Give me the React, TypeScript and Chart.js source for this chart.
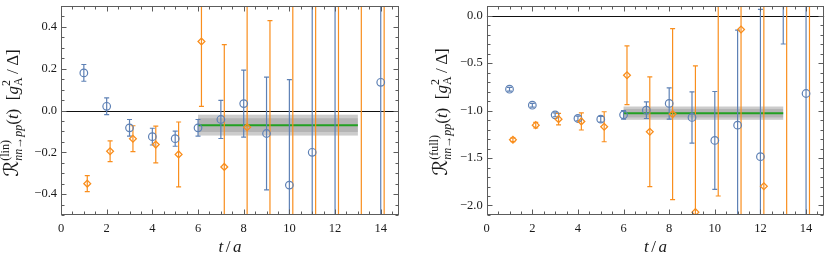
import React, { useEffect, useRef } from 'react';
import { Chart, registerables } from 'chart.js';

Chart.register(...registerables);

// ---------- data ----------
const tBlue = [1, 2, 3, 4, 5, 6, 7, 8, 9, 10, 11, 12, 13, 14];
const tOrange = [1.15, 2.15, 3.15, 4.15, 5.15, 6.15, 7.15, 8.15, 9.15, 10.15, 11.15, 12.15, 13.15, 14.15];

// left panel: R^(lin)
const linBlue = [0.18, 0.02, -0.083, -0.125, -0.135, -0.083, -0.043, 0.033, -0.11, -0.357, -0.2, 0.7, null, 0.135];
const linBlueErr = [0.04, 0.04, 0.04, 0.04, 0.036, 0.04, 0.091, 0.16, 0.27, 0.505, 1.2, 1.5, null, 1.4];
const linOrange = [-0.35, -0.195, -0.135, -0.163, -0.21, 0.33, -0.27, -0.08, -0.6, -0.8, 0.9, -1.0, 1.2, -1.5];
const linOrangeErr = [0.038, 0.05, 0.062, 0.088, 0.155, 0.31, 0.585, 0.9, 1.03, 1.5, 2.0, 2.5, 3.0, 3.5];

// right panel: R^(full)
const fullBlue = [-0.776, -0.944, -1.046, -1.084, -1.091, -1.046, -0.997, -0.926, -1.073, -1.315, -1.154, -1.486, 0.4, -0.821];
const fullBlueErr = [0.02, 0.02, 0.02, 0.025, 0.03, 0.045, 0.087, 0.165, 0.27, 0.515, 1.0, 1.55, 0.7, 1.6];
const fullOrange = [-1.308, -1.154, -1.091, -1.115, -1.171, -0.629, -1.224, -1.038, -2.07, 0.5, -0.147, -1.797, 0.6, 0.5];
const fullOrangeErr = [0.02, 0.03, 0.06, 0.09, 0.158, 0.31, 0.577, 0.9, 1.54, 2.4, 2.3, 1.95, 2.9, 2.8];

// fits: [value, outer error, inner error]
const fitRange = [6, 13];
const linFit = [-0.07, 0.05, 0.033];
const fullFit = [-1.028, 0.07, 0.045];

// axes
const xRange = [0, 14.8];
const xTicks = [0, 2, 4, 6, 8, 10, 12, 14];
const xMinorStep = 0.5;
const linYRange = [-0.5, 0.5];
const linYTicks = [-0.4, -0.2, 0, 0.2, 0.4];
const linYMinorStep = 0.05;
const fullYRange = [-2.1, 0.1];
const fullYTicks = [-2, -1.5, -1, -0.5, 0];
const fullYMinorStep = 0.1;

// ---------- style ----------
const BLUE = '#5E81B5';
const ORANGE = '#F98E1D';
const GREEN = '#22A022';
const FRAME = '#5c5c5c';
const TEXT = '#1a1a1a';
const SERIF = '"Liberation Serif", "Times New Roman", serif';

const fmtY = (v: number) => (v < -1e-9 ? '\u2212' : '') + Math.abs(v).toFixed(1);

function minorValues(range: number[], step: number, majors: number[]) {
  const out: number[] = [];
  const k0 = Math.ceil(range[0] / step - 1e-9);
  const k1 = Math.floor(range[1] / step + 1e-9);
  for (let k = k0; k <= k1; k++) {
    const v = k * step;
    if (!majors.some((m) => Math.abs(m - v) < 1e-6)) out.push(v);
  }
  return out;
}

function drawYLabel(ctx: CanvasRenderingContext2D, sup: string, bx: number, cy: number) {
  const big = `17px ${SERIF}`;
  const bigI = `italic 17px ${SERIF}`;
  const sm = `12px ${SERIF}`;
  const smI = `italic 12px ${SERIF}`;
  const scriptR = `20px "DejaVu Serif", "DejaVu Sans", ${SERIF}`;
  const groups: Array<Array<[string, string, number]>> = [
    [['\u211B', scriptR, 0]],
    [['nn\u2192pp', smI, 4], [`(${sup})`, sm, -9]],
    [['(', big, 0]],
    [['t', bigI, 0]],
    [[')', big, 0]],
    [['\u2002', big, 0]],
    [['[', big, 0]],
    [['g', bigI, 0]],
    [['A', sm, 4], ['2', sm, -8]],
    [['\u2009/\u2009', big, 0]],
    [['\u0394', big, 0]],
    [[']', big, 0]],
  ];
  ctx.save();
  const widths = groups.map((g) =>
    Math.max(
      ...g.map(([t, f]) => {
        ctx.font = f;
        return ctx.measureText(t).width;
      })
    )
  );
  const total = widths.reduce((a, b) => a + b, 0);
  ctx.translate(bx, cy);
  ctx.rotate(-Math.PI / 2);
  ctx.fillStyle = TEXT;
  ctx.textAlign = 'left';
  ctx.textBaseline = 'alphabetic';
  let x = -total / 2;
  groups.forEach((g, i) => {
    g.forEach(([t, f, dy]) => {
      ctx.font = f;
      ctx.fillText(t, x, dy);
    });
    x += widths[i];
  });
  ctx.restore();
}

function drawXLabel(ctx: CanvasRenderingContext2D, cx: number, by: number) {
  const parts: Array<[string, string]> = [
    ['t', `italic 17px ${SERIF}`],
    ['/', `17px ${SERIF}`],
    ['a', `italic 17px ${SERIF}`],
  ];
  const gap = 2.5;
  ctx.save();
  const ws = parts.map(([t, f]) => {
    ctx.font = f;
    return ctx.measureText(t).width;
  });
  const total = ws.reduce((a, b) => a + b, 0) + gap * (parts.length - 1);
  let x = cx - total / 2;
  ctx.fillStyle = TEXT;
  ctx.textAlign = 'left';
  ctx.textBaseline = 'alphabetic';
  parts.forEach(([t, f], i) => {
    ctx.font = f;
    ctx.fillText(t, x, by);
    x += ws[i] + gap;
  });
  ctx.restore();
}

const panelPlugin = {
  id: 'panel',
  beforeDatasetsDraw(chart: any, _args: any, o: any) {
    const { ctx, chartArea: a } = chart;
    const xs = chart.scales.x;
    const ys = chart.scales.y;
    ctx.save();
    ctx.beginPath();
    ctx.rect(a.left, a.top, a.right - a.left, a.bottom - a.top);
    ctx.clip();
    const fx0 = xs.getPixelForValue(o.fitRange[0]);
    const fx1 = xs.getPixelForValue(o.fitRange[1]);
    const band = (err: number, color: string) => {
      const y1 = ys.getPixelForValue(o.fit[0] + err);
      const y2 = ys.getPixelForValue(o.fit[0] - err);
      ctx.fillStyle = color;
      ctx.fillRect(fx0, y1, fx1 - fx0, y2 - y1);
    };
    band(o.fit[1], 'rgba(0,0,0,0.2)');
    band(o.fit[2], 'rgba(0,0,0,0.12)');
    // zero line
    const y0 = Math.round(ys.getPixelForValue(0)) + 0.5;
    ctx.strokeStyle = '#111';
    ctx.lineWidth = 1;
    ctx.beginPath();
    ctx.moveTo(a.left, y0);
    ctx.lineTo(a.right, y0);
    ctx.stroke();
    // fit line
    const yf = ys.getPixelForValue(o.fit[0]);
    ctx.strokeStyle = GREEN;
    ctx.lineWidth = 2;
    ctx.beginPath();
    ctx.moveTo(fx0, yf);
    ctx.lineTo(fx1, yf);
    ctx.stroke();
    // error bars
    for (const s of o.series) {
      ctx.strokeStyle = s.color;
      ctx.lineWidth = 1.2;
      s.t.forEach((t: number, i: number) => {
        const v = s.v[i];
        const e = s.e[i];
        if (v == null || e == null) return;
        const px = xs.getPixelForValue(t);
        const pTop = ys.getPixelForValue(v + e);
        const pBot = ys.getPixelForValue(v - e);
        ctx.beginPath();
        ctx.moveTo(px, pTop);
        ctx.lineTo(px, pBot);
        ctx.moveTo(px - 2.5, pTop);
        ctx.lineTo(px + 2.5, pTop);
        ctx.moveTo(px - 2.5, pBot);
        ctx.lineTo(px + 2.5, pBot);
        ctx.stroke();
      });
    }
    ctx.restore();
  },
  afterDraw(chart: any, _args: any, o: any) {
    const { ctx, chartArea: a } = chart;
    const xs = chart.scales.x;
    const ys = chart.scales.y;
    const l = Math.round(a.left) + 0.5;
    const r = Math.round(a.right) - 0.5;
    const t = Math.round(a.top) + 0.5;
    const b = Math.round(a.bottom) - 0.5;
    ctx.save();
    ctx.strokeStyle = FRAME;
    ctx.lineWidth = 1;
    ctx.strokeRect(l, t, r - l, b - t);
    ctx.beginPath();
    const xMaj = o.xTicks as number[];
    const xMin = minorValues(o.xRange, o.xMinorStep, xMaj);
    const tickX = (v: number, len: number) => {
      const p = Math.round(xs.getPixelForValue(v)) + 0.5;
      ctx.moveTo(p, b);
      ctx.lineTo(p, b - len);
      ctx.moveTo(p, t);
      ctx.lineTo(p, t + len);
    };
    xMaj.forEach((v) => tickX(v, 5));
    xMin.forEach((v) => tickX(v, 3));
    const yMaj = o.yTicks as number[];
    const yMin = minorValues(o.yRange, o.yMinorStep, yMaj);
    const tickY = (v: number, len: number) => {
      const p = Math.round(ys.getPixelForValue(v)) + 0.5;
      ctx.moveTo(l, p);
      ctx.lineTo(l + len, p);
      ctx.moveTo(r, p);
      ctx.lineTo(r - len, p);
    };
    yMaj.forEach((v) => tickY(v, 5));
    yMin.forEach((v) => tickY(v, 3));
    ctx.stroke();
    ctx.restore();
    drawXLabel(ctx, (a.left + a.right) / 2, 252);
    drawYLabel(ctx, o.sup, o.labelX, o.labelY);
  },
};

type PanelProps = {
  left: number;
  width: number;
  axisWidth: number;
  padRight: number;
  yRange: number[];
  yTicks: number[];
  yMinorStep: number;
  blue: (number | null)[];
  blueErr: (number | null)[];
  orange: (number | null)[];
  orangeErr: (number | null)[];
  fit: number[];
  sup: string;
  labelX: number;
  labelY: number;
};

function toPoints(ts: number[], vs: (number | null)[]) {
  return ts
    .map((t, i) => ({ x: t, y: vs[i] }))
    .filter((p) => p.y != null) as { x: number; y: number }[];
}

function Panel(p: PanelProps) {
  const ref = useRef<HTMLCanvasElement>(null);
  useEffect(() => {
    const chart = new Chart(ref.current as HTMLCanvasElement, {
      type: 'scatter',
      data: {
        datasets: [
          {
            data: toPoints(tOrange, p.orange),
            pointStyle: 'rectRot',
            pointRadius: 3.4,
            borderColor: ORANGE,
            backgroundColor: 'rgba(0,0,0,0)',
            borderWidth: 1.3,
          },
          {
            data: toPoints(tBlue, p.blue),
            pointStyle: 'circle',
            pointRadius: 3.8,
            borderColor: BLUE,
            backgroundColor: 'rgba(0,0,0,0)',
            borderWidth: 1.2,
          },
        ],
      },
      options: {
        animation: false,
        responsive: false,
        devicePixelRatio: 1,
        events: [],
        layout: { padding: { left: 0, right: p.padRight, top: 6, bottom: 0 } },
        plugins: {
          legend: { display: false },
          tooltip: { enabled: false },
          panel: {
            fitRange,
            fit: p.fit,
            xTicks,
            xRange,
            xMinorStep,
            yTicks: p.yTicks,
            yRange: p.yRange,
            yMinorStep: p.yMinorStep,
            sup: p.sup,
            labelX: p.labelX,
            labelY: p.labelY,
            series: [
              { t: tBlue, v: p.blue, e: p.blueErr, color: BLUE },
              { t: tOrange, v: p.orange, e: p.orangeErr, color: ORANGE },
            ],
          },
        } as any,
        scales: {
          x: {
            type: 'linear',
            min: xRange[0],
            max: xRange[1],
            grid: { display: false, drawTicks: false },
            border: { display: false },
            afterBuildTicks: (s: any) => {
              s.ticks = xTicks.map((v) => ({ value: v }));
            },
            afterFit: (s: any) => {
              s.height = 49;
              s.paddingLeft = 0;
              s.paddingRight = 0;
            },
            ticks: {
              font: { family: SERIF, size: 12.5 },
              color: TEXT,
              padding: 6,
              maxRotation: 0,
              autoSkip: false,
              callback: (v: any) => String(v),
            },
          },
          y: {
            type: 'linear',
            min: p.yRange[0],
            max: p.yRange[1],
            grid: { display: false, drawTicks: false },
            border: { display: false },
            afterBuildTicks: (s: any) => {
              s.ticks = p.yTicks.map((v) => ({ value: v }));
            },
            afterFit: (s: any) => {
              s.width = p.axisWidth;
              s.paddingTop = 0;
              s.paddingBottom = 0;
            },
            ticks: {
              font: { family: SERIF, size: 12.5 },
              color: TEXT,
              padding: 4,
              autoSkip: false,
              callback: (v: any) => fmtY(Number(v)),
            },
          },
        },
      },
      plugins: [panelPlugin as any],
    });
    return () => chart.destroy();
  }, []);
  return (
    <canvas
      ref={ref}
      width={p.width}
      height={264}
      style={{ position: 'absolute', left: p.left, top: 0, width: p.width, height: 264 }}
    />
  );
}

export default function App() {
  return (
    <div style={{ position: 'absolute', left: 0, top: 0, width: 831, height: 264, background: '#fff' }}>
      <Panel
        left={0}
        width={410}
        axisWidth={61}
        padRight={11}
        yRange={linYRange}
        yTicks={linYTicks}
        yMinorStep={linYMinorStep}
        blue={linBlue}
        blueErr={linBlueErr}
        orange={linOrange}
        orangeErr={linOrangeErr}
        fit={linFit}
        sup="lin"
        labelX={18}
        labelY={113}
      />
      <Panel
        left={410}
        width={421}
        axisWidth={76.7}
        padRight={6.7}
        yRange={fullYRange}
        yTicks={fullYTicks}
        yMinorStep={fullYMinorStep}
        blue={fullBlue}
        blueErr={fullBlueErr}
        orange={fullOrange}
        orangeErr={fullOrangeErr}
        fit={fullFit}
        sup="full"
        labelX={37}
        labelY={112}
      />
    </div>
  );
}
